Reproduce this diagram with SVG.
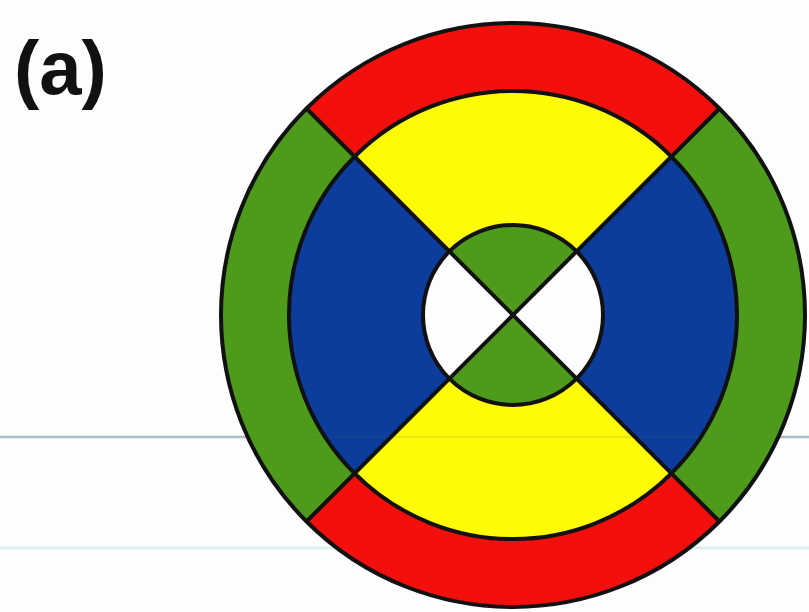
<svg xmlns="http://www.w3.org/2000/svg" width="809" height="612" viewBox="0 0 809 612">
  <style>
    .ol { fill: none; stroke: #111; stroke-width: 4; }
    .red { fill: #f20f0c; }
    .green { fill: #4e9a1b; }
    .blue { fill: #0c3c9c; }
    .yellow { fill: #fffa05; }
    .white { fill: #fdfdfd; }
    .lbl { font-family: "Liberation Sans", Arial, sans-serif; font-weight: bold; font-size: 76px; fill: #111; }
  </style>
  <rect width="809" height="612" fill="#fcfefe"/>
  <g id="background-lines">
    <line x1="0" y1="437" x2="809" y2="437" stroke="#a9bcc6" stroke-width="2.5"/>
    <line x1="0" y1="548" x2="809" y2="548" stroke="#dcefef" stroke-width="3"/>
  </g>
  <text id="label" class="lbl" x="14" y="94">(a)</text>
  <g id="target">
    <g id="outer-ring">
      <circle class="green" cx="513" cy="315" r="292"/>
      <path class="red" d="M513 315 L306.5 108.5 A292 292 0 0 1 719.5 108.5 Z"/>
      <path class="red" d="M513 315 L719.5 521.5 A292 292 0 0 1 306.5 521.5 Z"/>
    </g>
    <g id="middle-ring">
      <circle class="blue" cx="513" cy="315" r="224"/>
      <path class="yellow" d="M513 315 L354.6 156.6 A224 224 0 0 1 671.4 156.6 Z"/>
      <path class="yellow" d="M513 315 L671.4 473.4 A224 224 0 0 1 354.6 473.4 Z"/>
    </g>
    <g id="inner-circle">
      <circle class="white" cx="513" cy="315" r="90"/>
      <path class="green" d="M513 315 L449.4 251.4 A90 90 0 0 1 576.6 251.4 Z"/>
      <path class="green" d="M513 315 L576.6 378.6 A90 90 0 0 1 449.4 378.6 Z"/>
    </g>
    <line x1="290" y1="437" x2="737" y2="437" stroke="#5a6a50" stroke-width="2" opacity="0.12"/>
    <g id="outlines">
      <circle class="ol" cx="513" cy="315" r="292"/>
      <circle class="ol" cx="513" cy="315" r="224"/>
      <circle class="ol" cx="513" cy="315" r="90"/>
      <line class="ol" x1="306.5" y1="108.5" x2="719.5" y2="521.5"/>
      <line class="ol" x1="719.5" y1="108.5" x2="306.5" y2="521.5"/>
    </g>
  </g>
</svg>
